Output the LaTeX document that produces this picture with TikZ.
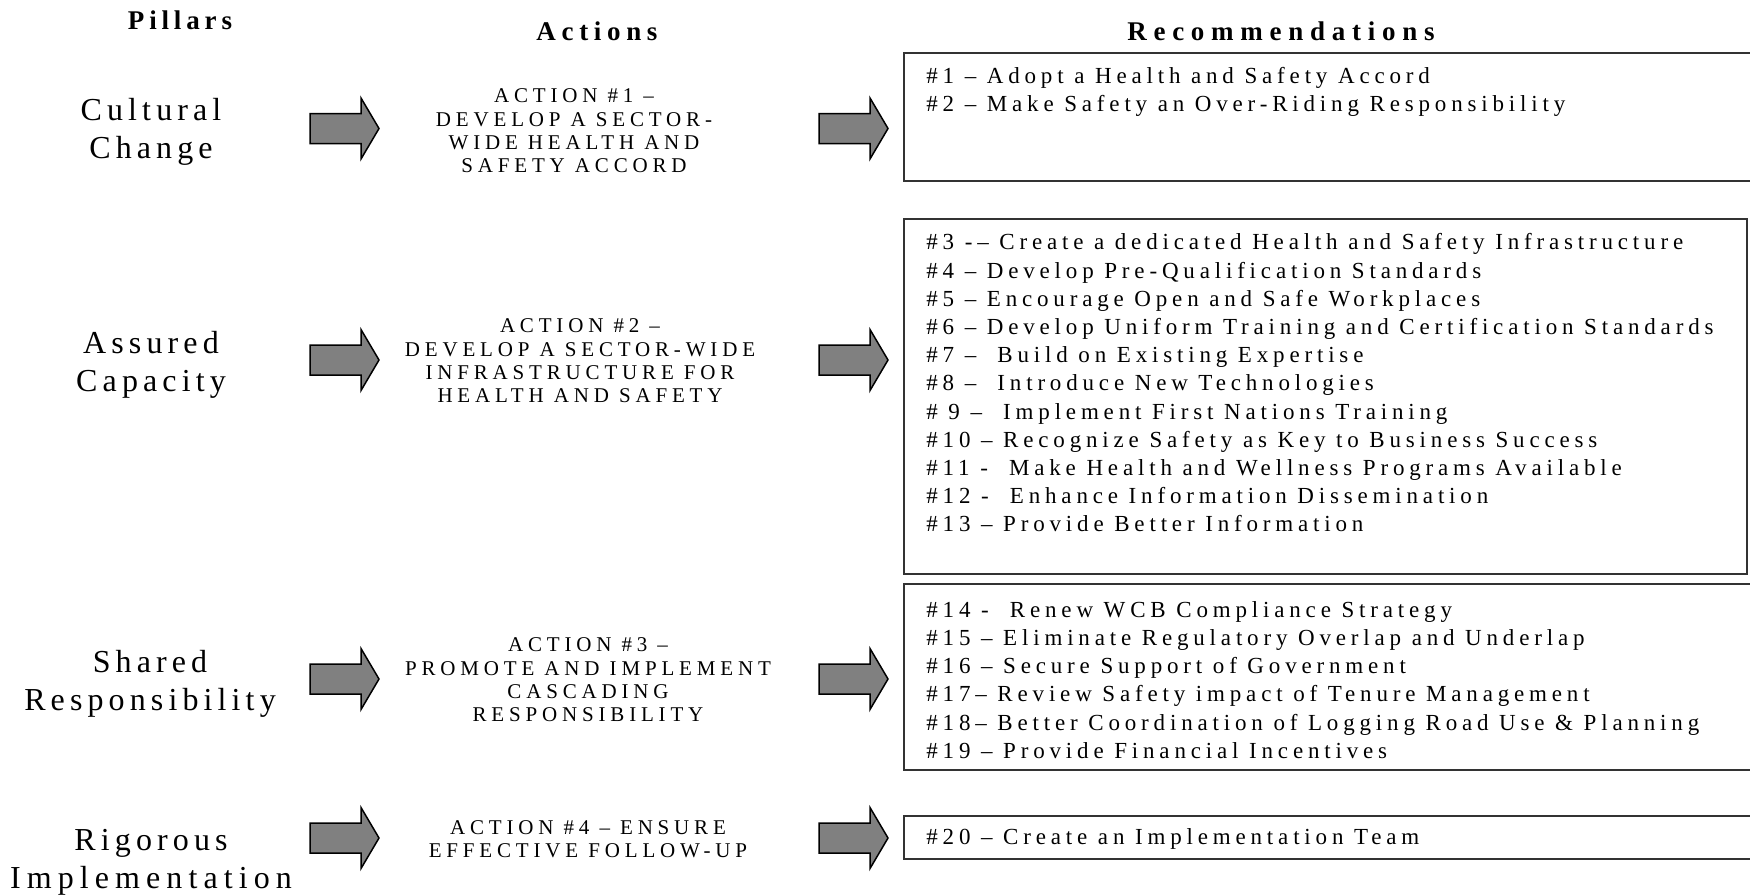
\documentclass[tikz,border=0pt]{standalone}
\usepackage{fontspec}
\setmainfont{Liberation Serif}
\usetikzlibrary{fit}
\newfontfamily\hdrfont[LetterSpace=22]{Liberation Serif}
\newfontfamily\pilfont[LetterSpace=16]{Liberation Serif}
\newfontfamily\actfont[LetterSpace=23]{Liberation Serif}
\newfontfamily\recfont[LetterSpace=21]{Liberation Serif}
\tikzset{
  hdr/.style={inner sep=0pt, anchor=base, font=\hdrfont\bfseries\fontsize{13.5}{16}\selectfont},
  pillar/.style={inner sep=0pt, align=center, font=\pilfont\fontsize{16}{19}\selectfont},
  action/.style={inner sep=0pt, align=center, font=\actfont\fontsize{10.5}{11.7}\selectfont},
  rectext/.style={inner sep=0pt, align=left, anchor=west, font=\recfont\fontsize{11.5}{14.1}\selectfont},
  recbox/.style={draw=black!80, line width=1pt, inner sep=0pt},
  barrow/.pic={\draw[fill=black!50, draw=black, line width=0.75pt]
     (0,-15) -- (51,-15) -- (51,-30.5) -- (69,0) -- (51,30.5) -- (51,15) -- (0,15) -- cycle;}
}
\begin{document}
\begin{tikzpicture}[x=0.5pt,y=-0.5pt]
\useasboundingbox (0,0) rectangle (1750,894);
\clip (0,0) rectangle (1750,894);
% headers
\node[hdr] (hp) at (180,29) {\addfontfeature{LetterSpace=18}Pillars};
\node[hdr] (ha) at (597,40) {\addfontfeature{LetterSpace=21}Actions};
\node[hdr] (hr) at (1281,40) {\addfontfeature{LetterSpace=25}Recommendations};
% pillars
\node[pillar] (p1) at (151,132) {Cultural\\Change};
\node[pillar] (p2) at (151,365) {Assured\\Capacity};
\node[pillar] (p3) at (150,684) {Shared\\Responsibility};
\node[pillar] (p4) at (151,862) {Rigorous\\\addfontfeature{LetterSpace=19}Implementation};
% arrows column 1
\pic (a1) at (310,128.5) {barrow};
\pic (a2) at (310,360) {barrow};
\pic (a3) at (310,679) {barrow};
\pic (a4) at (310,838) {barrow};
% actions
\node[action] (c1) at (574,131) {ACTION \#1 –\\DEVELOP A SECTOR-\\WIDE HEALTH AND\\SAFETY ACCORD};
\node[action] (c2) at (580,361) {ACTION \#2 –\\DEVELOP A SECTOR-WIDE\\INFRASTRUCTURE FOR\\HEALTH AND SAFETY};
\node[action] (c3) at (588,680) {ACTION \#3 –\\PROMOTE AND IMPLEMENT\\CASCADING\\RESPONSIBILITY};
\node[action] (c4) at (588,839) {ACTION \#4 – ENSURE\\EFFECTIVE FOLLOW-UP};
% arrows column 2
\pic (b1) at (819,128.5) {barrow};
\pic (b2) at (819,360) {barrow};
\pic (b3) at (819,679) {barrow};
\pic (b4) at (819,838) {barrow};
% recommendation boxes
\node[recbox, fit={(904,53)(1760,181)}] (r1) {};
\node[recbox, fit={(904,219)(1747,574)}] (r2) {};
\node[recbox, fit={(904,584)(1760,770)}] (r3) {};
\node[recbox, fit={(904,816)(1760,859)}] (r4) {};
\node[rectext] (t1) at (926,92) {\#1 – Adopt a Health and Safety Accord\\\#2 – Make Safety an Over-Riding Responsibility};
\node[rectext] (t2) at (926,383) {\#3 -– Create a dedicated Health and Safety Infrastructure\\
\#4 – Develop Pre-Qualification Standards\\
\#5 – Encourage Open and Safe Workplaces\\
\#6 – Develop Uniform Training and Certification Standards\\
\#7 –~ Build on Existing Expertise\\
\#8 –~ Introduce New Technologies\\
\# 9 –~ Implement First Nations Training\\
\#10 – Recognize Safety as Key to Business Success\\
\#11 -~ Make Health and Wellness Programs Available\\
\#12 -~ Enhance Information Dissemination\\
\#13 – Provide Better Information};
\node[rectext] (t3) at (926,680) {\#14 -~ Renew WCB Compliance Strategy\\
\#15 – Eliminate Regulatory Overlap and Underlap\\
\#16 – Secure Support of Government\\
\#17– Review Safety impact of Tenure Management\\
\#18– Better Coordination of Logging Road Use \& Planning\\
\#19 – Provide Financial Incentives};
\node[rectext] (t4) at (926,839) {\#20 – Create an Implementation Team};
\end{tikzpicture}
\end{document}
